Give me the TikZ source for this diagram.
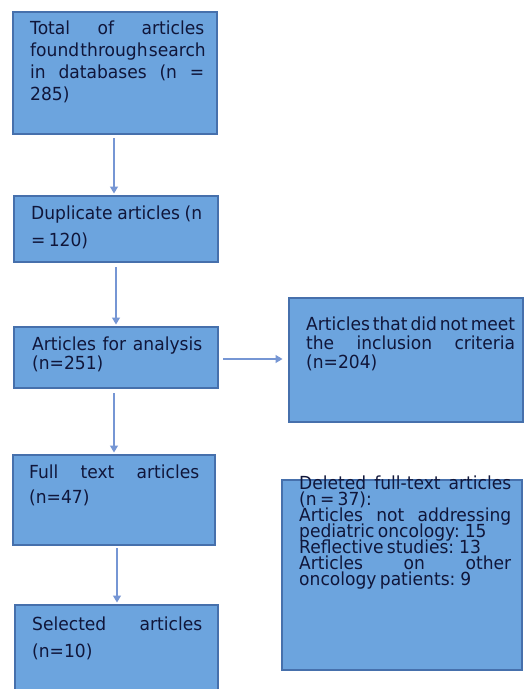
\documentclass[tikz,border=0pt]{standalone}
\usepackage{fontspec}
\setmainfont{DejaVu Sans}[FakeStretch=0.95]
\usetikzlibrary{arrows.meta}
\definecolor{boxfill}{RGB}{108,164,222}
\definecolor{boxline}{RGB}{70,112,172}
\definecolor{txtc}{RGB}{16,22,58}
\definecolor{arrc}{RGB}{118,150,212}
\tikzset{
  boxst/.style={draw=boxline, fill=boxfill, line width=2pt, inner sep=0pt, rectangle},
  txtst/.style={anchor=north west, inner sep=0pt, text=txtc},
  arr/.style={draw=arrc, line width=1.2pt, -{Triangle[length=7pt,width=8pt]}, shorten >=1.5pt}
}
\newcommand{\fs}[1]{\fontsize{18}{#1}\selectfont\lineskiplimit=-100pt\relax\hyphenpenalty=10000\relax\rule{0pt}{15pt}}
\newcommand{\fl}[1]{\hbox to\linewidth{\spaceskip=0.22em plus 1fil minus 0.15em\relax #1}}
\begin{document}
\begin{tikzpicture}[x=1pt,y=-1pt]
\fill[white] (0,0) rectangle (525,689);
\useasboundingbox (0,0) rectangle (525,689);
% boxes
\node[boxst, minimum width=204pt, minimum height=122pt] (b1) at (115,73) {};
\node[boxst, minimum width=204pt, minimum height=66pt] (b2) at (116,229) {};
\node[boxst, minimum width=204pt, minimum height=61pt] (b3) at (116,357.5) {};
\node[boxst, minimum width=234pt, minimum height=124pt] (b4) at (406,360) {};
\node[boxst, minimum width=202pt, minimum height=90pt] (b5) at (114,500) {};
\node[boxst, minimum width=203pt, minimum height=95pt] (b6) at (116.5,652.5) {};
\node[boxst, minimum width=240pt, minimum height=190pt] (b7) at (402,575) {};
% texts
\node[txtst, text width=174pt] (t1) at (30,19)
  {\fs{22}\fl{Total of articles}\newline\fl{found through search}\newline\fl{in databases (n =}\newline 285)\par};
\node[txtst, text width=171pt] (t2) at (31,204)
  {\fs{27.5}\fl{Duplicate articles (n}\newline = 120)\par};
\node[txtst, text width=170pt] (t3) at (32,335)
  {\fs{19}\fl{Articles for analysis}\newline(n=251)\par};
\node[txtst, text width=209pt] (t4) at (306,315)
  {\fs{19}\fl{Articles that did not meet}\newline\fl{the inclusion criteria}\newline(n=204)\par};
\node[txtst, text width=170pt] (t5) at (29,463)
  {\fs{25}\fl{Full text articles}\newline(n=47)\par};
\node[txtst, text width=170pt] (t6) at (32,615)
  {\fs{27}\fl{Selected articles}\newline(n=10)\par};
\node[txtst, text width=212pt] (t7) at (299,474)
  {\fs{16}\fl{Deleted full-text articles}\newline(n = 37):\newline\fl{Articles not addressing}\newline pediatric oncology: 15\newline Reflective studies: 13\newline\fl{Articles on other}\newline oncology patients: 9\par};
% arrows
\draw[arr] ([shift={(-1pt,-3pt)}]b1.south) -- ([xshift=-1pt]b1.south |- b2.north);
\draw[arr] ([yshift=-4pt]b2.south) -- (b2.south |- b3.north);
\draw[arr] ([shift={(4pt,-1.5pt)}]b3.east) -- ([shift={(-4pt,-1.5pt)}]b3.east -| b4.west);
\draw[arr] ([shift={(-2pt,-4pt)}]b3.south) -- ([xshift=-2pt]b3.south |- b5.north);
\draw[arr] ([shift={(3pt,-2pt)}]b5.south) -- ([xshift=3pt]b5.south |- b6.north);
\end{tikzpicture}
\end{document}
